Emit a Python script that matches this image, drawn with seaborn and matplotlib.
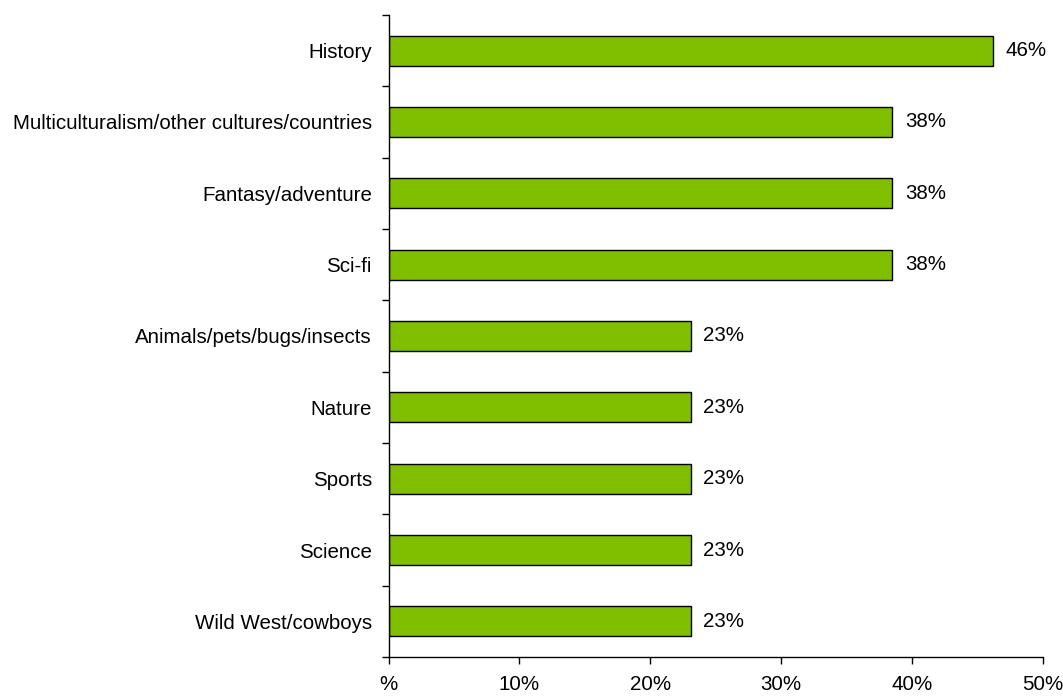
import matplotlib.pyplot as plt
import numpy as np
import pandas as pd
import seaborn as sns

topics = [
    "History",
    "Multiculturalism/other cultures/countries",
    "Fantasy/adventure",
    "Sci-fi",
    "Animals/pets/bugs/insects",
    "Nature",
    "Sports",
    "Science",
    "Wild West/cowboys",
]
share = [46.2, 38.5, 38.5, 38.5, 23.1, 23.1, 23.1, 23.1, 23.1]
x_ticks = [0, 10, 20, 30, 40, 50]
x_labels = ["%", "10%", "20%", "30%", "40%", "50%"]


def main():
    df = pd.DataFrame({"topic": topics, "share": share})

    sns.set_style("white")
    plt.rcParams["font.family"] = ["Liberation Sans", "DejaVu Sans"]
    plt.rcParams["text.color"] = "black"
    plt.rcParams["xtick.color"] = "black"
    plt.rcParams["ytick.color"] = "black"
    fs = 14.8

    fig = plt.figure(figsize=(10.63, 6.96), dpi=100)
    ax = fig.add_axes([0.3655, 0.056, 0.6157, 0.9225])

    sns.barplot(
        data=df,
        x="share",
        y="topic",
        orient="h",
        color="#80bf00",
        saturation=1,
        width=0.42,
        edgecolor="black",
        linewidth=1,
        ax=ax,
    )

    ax.bar_label(
        ax.containers[0],
        labels=[f"{v:.0f}%" for v in share],
        padding=9,
        fontsize=fs,
        color="black",
    )

    ax.set_xlim(0, 50)
    ax.set_ylim(len(topics) - 0.5, -0.5)
    ax.set_xticks(x_ticks)
    ax.set_xticklabels(x_labels, fontsize=fs)
    ax.set_yticks(range(len(topics)))
    ax.set_yticklabels(topics, fontsize=fs)
    ax.set_yticks(np.arange(len(topics) + 1) - 0.5, minor=True)
    ax.tick_params(axis="y", which="major", length=0, pad=12)
    ax.tick_params(axis="y", which="minor", length=5, width=1, color="black", left=True)
    ax.tick_params(axis="x", length=5, width=1, color="black", bottom=True, pad=8)
    ax.set(xlabel=None, ylabel=None)

    for side in ["top", "right"]:
        ax.spines[side].set_visible(False)
    for side in ["left", "bottom"]:
        ax.spines[side].set_color("black")
        ax.spines[side].set_linewidth(1)

    fig.savefig("out.png", dpi=100)


if __name__ == "__main__":
    main()
